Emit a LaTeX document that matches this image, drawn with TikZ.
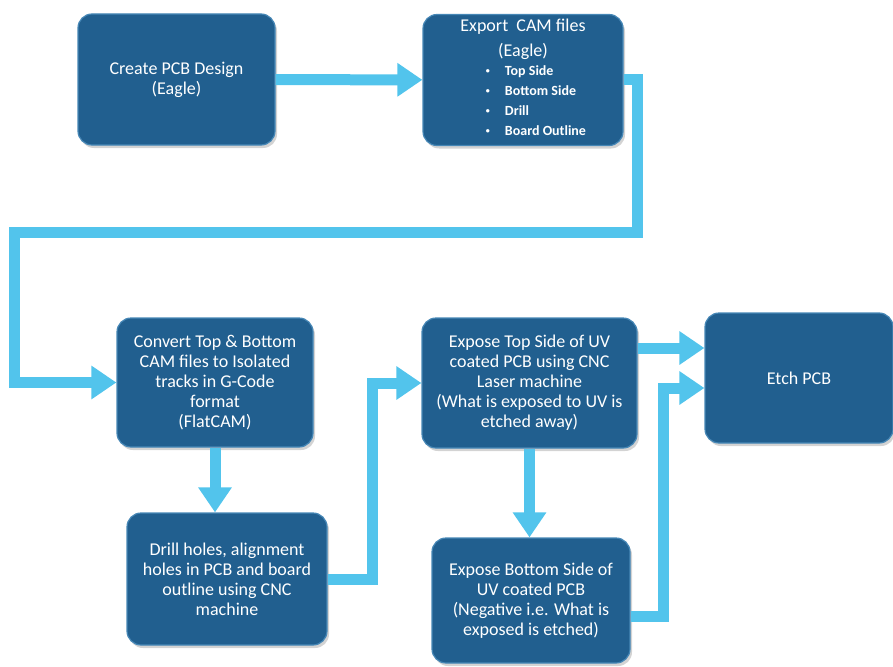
\documentclass[tikz,border=0pt]{standalone}
\usepackage{fontspec}
\setmainfont{Carlito}
\usetikzlibrary{arrows.meta,shadows}
\definecolor{stepblue}{RGB}{33,95,143}
\definecolor{stepedge}{RGB}{70,135,182}
\definecolor{flowcyan}{RGB}{82,196,236}
\newcommand{\dotitem}{\raisebox{1.5pt}{\fontsize{8}{8}\selectfont\textbullet}}

\begin{document}
\begin{tikzpicture}[x=1pt, y=-1pt,
		stepbox/.style={draw=stepedge, line width=1.2pt, fill=stepblue, rounded corners=14pt,
			text=white, align=center, font=\fontsize{18}{20}\selectfont, inner sep=2pt,
			drop shadow={shadow xshift=2pt, shadow yshift=-3pt, opacity=0.35}},
		flow/.style={draw=flowcyan, line width=11pt, -{Triangle[length=25pt, width=32pt]}}]
		\useasboundingbox (0,0) rectangle (893,666);
		% steps
		\node[stepbox, minimum width=197pt, minimum height=131pt] (design) at (176.5,79.5) {Create PCB Design\\(Eagle)};
		\node[stepbox, minimum width=200pt, minimum height=131pt, inner sep=0pt,
			font=\fontsize{18}{25}\selectfont] (export) at (523,80)
			{\relax Export\ \ CAM files\\(Eagle)\\[1pt]
			\hspace*{26pt}{\fontsize{14}{20}\selectfont\bfseries
			\begin{tabular}{@{}l@{\hspace{15pt}}l@{}}
				\dotitem & Top Side\\
				\dotitem & Bottom Side\\
				\dotitem & Drill\\
				\dotitem & Board Outline
			\end{tabular}}};
		\node[stepbox, minimum width=196pt, minimum height=129pt] (convert) at (215,382.5)
			{Convert Top \& Bottom\\CAM files to Isolated\\tracks in G-Code\\format\\(FlatCAM)};
		\node[stepbox, minimum width=200pt, minimum height=132pt] (drill) at (227,579)
			{Drill holes, alignment\\holes in PCB and board\\outline using CNC\\machine};
		\node[stepbox, minimum width=215pt, minimum height=130pt] (top) at (529.5,383)
			{Expose Top Side of UV\\coated PCB using CNC\\Laser machine\\(What is exposed to UV is\\etched away)};
		\node[stepbox, minimum width=198pt, minimum height=125pt] (bottom) at (531,600.5)
			{Expose Bottom Side of\\UV coated PCB\\(Negative i.e. What is\\exposed is etched)};
		\node[stepbox, minimum width=188pt, minimum height=130pt] (etch) at (799,378) {Etch PCB};
		% connectors
		\coordinate (loop) at (14,232);
		\draw[flow] (design) -- (export);
		\draw[flow] (export.east) -- ++(14pt,0) |- (loop) |- (convert.west);
		\draw[flow] (convert.south) -- (convert.south |- drill.north);
		\draw[flow] (drill.east) -- ++(45pt,0) |- (top.west);
		\draw[flow] (top.south) -- (top.south |- bottom.north);
		\draw[flow] ([yshift=35pt]top.east) -- ([yshift=35pt]top.east -| etch.west);
		\draw[flow] ([yshift=-16pt]bottom.east) -- ++(33pt,0) |- ([yshift=-10pt]etch.west);
	\end{tikzpicture}
\end{document}
